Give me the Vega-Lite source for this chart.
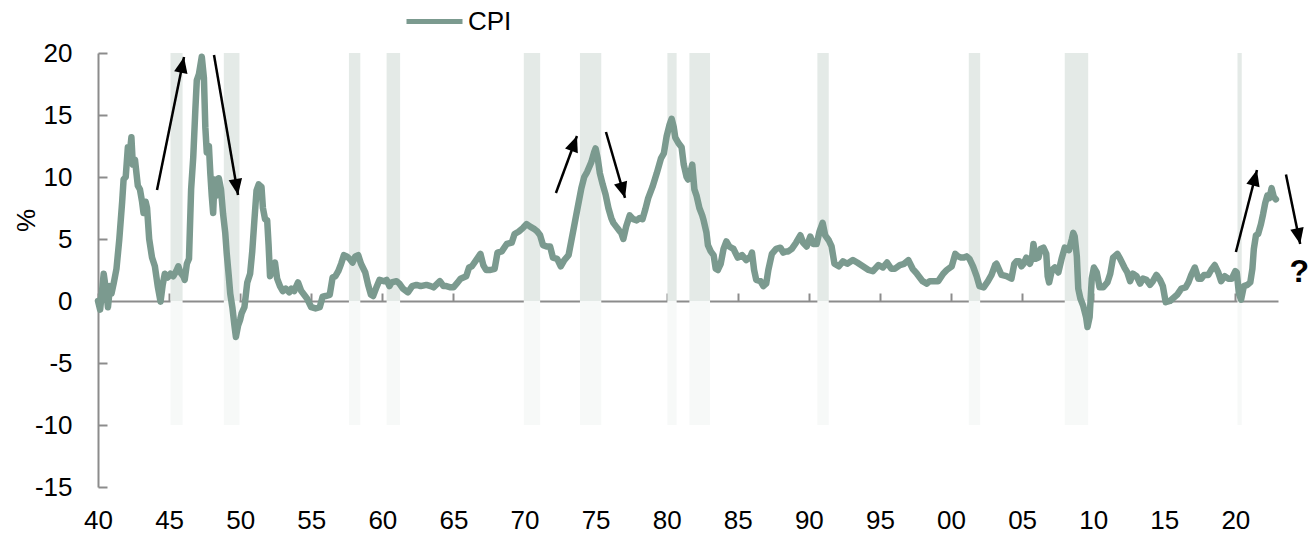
{
  "$schema": "https://vega.github.io/schema/vega-lite/v6.json",
  "width": 1180,
  "height": 434,
  "autosize": "none",
  "padding": {"left": 98, "top": 53, "right": 31, "bottom": 48},
  "background": "white",
  "config": {
    "view": {"stroke": null},
    "font": "Liberation Sans",
    "axis": {"grid": false, "labelColor": "black", "labelFont": "Liberation Sans", "titleFont": "Liberation Sans"}
  },
  "datasets": {
    "cpi": [
      {"t":1940.0,"v":0.0},{"t":1940.15,"v":-0.7},{"t":1940.3,"v":1.0},{"t":1940.4,"v":2.2},{"t":1940.55,"v":1.0},{"t":1940.7,"v":-0.5},{"t":1940.85,"v":1.2},{"t":1940.95,"v":0.6},
      {"t":1941.1,"v":1.4},{"t":1941.3,"v":2.6},{"t":1941.5,"v":5.0},{"t":1941.7,"v":8.0},{"t":1941.8,"v":9.8},{"t":1941.95,"v":10.0},
      {"t":1942.1,"v":12.4},{"t":1942.2,"v":11.5},{"t":1942.35,"v":13.2},{"t":1942.45,"v":11.0},{"t":1942.6,"v":11.4},{"t":1942.8,"v":9.3},{"t":1942.95,"v":9.0},
      {"t":1943.1,"v":8.0},{"t":1943.2,"v":7.1},{"t":1943.35,"v":8.0},{"t":1943.45,"v":7.5},{"t":1943.6,"v":5.0},{"t":1943.8,"v":3.5},
      {"t":1944.0,"v":2.8},{"t":1944.2,"v":1.2},{"t":1944.4,"v":-0.05},{"t":1944.55,"v":1.3},{"t":1944.7,"v":2.2},{"t":1944.9,"v":1.9},
      {"t":1945.1,"v":2.2},{"t":1945.3,"v":2.0},{"t":1945.5,"v":2.4},{"t":1945.65,"v":2.8},{"t":1945.8,"v":2.3},
      {"t":1946.0,"v":2.0},{"t":1946.1,"v":1.7},{"t":1946.25,"v":3.0},{"t":1946.4,"v":3.4},{"t":1946.55,"v":9.0},{"t":1946.7,"v":11.6},{"t":1946.85,"v":15.5},{"t":1946.95,"v":17.8},
      {"t":1947.1,"v":18.3},{"t":1947.3,"v":19.7},{"t":1947.45,"v":18.0},{"t":1947.55,"v":14.0},{"t":1947.65,"v":12.0},{"t":1947.8,"v":12.5},{"t":1947.9,"v":10.3},
      {"t":1948.0,"v":8.5},{"t":1948.1,"v":7.1},{"t":1948.2,"v":9.8},{"t":1948.35,"v":8.5},{"t":1948.5,"v":9.9},{"t":1948.65,"v":9.0},{"t":1948.8,"v":7.0},{"t":1948.95,"v":5.5},
      {"t":1949.05,"v":3.9},{"t":1949.2,"v":2.0},{"t":1949.3,"v":0.6},{"t":1949.45,"v":-0.5},{"t":1949.6,"v":-2.0},{"t":1949.7,"v":-2.9},{"t":1949.85,"v":-2.0},
      {"t":1950.0,"v":-1.5},{"t":1950.1,"v":-1.0},{"t":1950.3,"v":-0.5},{"t":1950.5,"v":1.5},{"t":1950.7,"v":2.2},{"t":1950.85,"v":4.0},
      {"t":1951.0,"v":6.5},{"t":1951.15,"v":8.9},{"t":1951.3,"v":9.4},{"t":1951.5,"v":9.2},{"t":1951.6,"v":7.5},{"t":1951.75,"v":6.6},{"t":1951.9,"v":6.5},
      {"t":1952.0,"v":4.5},{"t":1952.1,"v":2.0},{"t":1952.25,"v":2.5},{"t":1952.45,"v":3.1},{"t":1952.6,"v":1.8},{"t":1952.8,"v":1.2},
      {"t":1953.0,"v":0.8},{"t":1953.2,"v":1.0},{"t":1953.45,"v":0.7},{"t":1953.6,"v":1.0},{"t":1953.8,"v":0.8},
      {"t":1954.07,"v":1.5},{"t":1954.3,"v":0.8},{"t":1954.5,"v":0.5},{"t":1954.7,"v":0.2},
      {"t":1955.0,"v":-0.5},{"t":1955.3,"v":-0.6},{"t":1955.6,"v":-0.5},{"t":1955.8,"v":0.35},
      {"t":1956.0,"v":0.4},{"t":1956.3,"v":0.5},{"t":1956.5,"v":1.9},{"t":1956.7,"v":2.0},{"t":1956.9,"v":2.4},
      {"t":1957.1,"v":3.0},{"t":1957.3,"v":3.7},{"t":1957.5,"v":3.6},{"t":1957.7,"v":3.4},{"t":1957.9,"v":3.1},
      {"t":1958.1,"v":3.6},{"t":1958.3,"v":3.7},{"t":1958.5,"v":3.0},{"t":1958.8,"v":2.3},
      {"t":1959.0,"v":1.3},{"t":1959.2,"v":0.5},{"t":1959.35,"v":0.4},{"t":1959.55,"v":1.0},{"t":1959.8,"v":1.7},
      {"t":1960.1,"v":1.6},{"t":1960.3,"v":1.7},{"t":1960.5,"v":1.2},{"t":1960.65,"v":1.5},
      {"t":1961.0,"v":1.6},{"t":1961.2,"v":1.4},{"t":1961.45,"v":1.0},{"t":1961.8,"v":0.7},
      {"t":1962.1,"v":1.2},{"t":1962.4,"v":1.3},{"t":1962.7,"v":1.2},
      {"t":1963.1,"v":1.3},{"t":1963.4,"v":1.2},{"t":1963.6,"v":1.1},
      {"t":1964.05,"v":1.6},{"t":1964.3,"v":1.2},{"t":1964.5,"v":1.2},{"t":1964.8,"v":1.1},
      {"t":1965.0,"v":1.1},{"t":1965.3,"v":1.5},{"t":1965.5,"v":1.8},{"t":1965.9,"v":2.0},
      {"t":1966.1,"v":2.7},{"t":1966.3,"v":2.8},{"t":1966.6,"v":3.3},{"t":1966.9,"v":3.8},
      {"t":1967.1,"v":2.9},{"t":1967.3,"v":2.5},{"t":1967.6,"v":2.5},{"t":1967.9,"v":2.6},
      {"t":1968.1,"v":3.9},{"t":1968.4,"v":4.0},{"t":1968.75,"v":4.6},
      {"t":1969.1,"v":4.7},{"t":1969.3,"v":5.4},{"t":1969.6,"v":5.6},{"t":1969.9,"v":5.9},
      {"t":1970.15,"v":6.2},{"t":1970.4,"v":6.0},{"t":1970.7,"v":5.8},{"t":1970.9,"v":5.6},
      {"t":1971.1,"v":5.3},{"t":1971.3,"v":4.5},{"t":1971.55,"v":4.4},{"t":1971.8,"v":4.4},
      {"t":1972.0,"v":3.5},{"t":1972.3,"v":3.4},{"t":1972.55,"v":2.8},{"t":1972.8,"v":3.3},
      {"t":1973.1,"v":3.7},{"t":1973.4,"v":5.5},{"t":1973.7,"v":7.3},
      {"t":1974.0,"v":9.1},{"t":1974.2,"v":10.0},{"t":1974.4,"v":10.4},{"t":1974.7,"v":11.2},{"t":1974.9,"v":12.0},
      {"t":1975.0,"v":12.3},{"t":1975.15,"v":11.5},{"t":1975.3,"v":10.3},{"t":1975.5,"v":9.4},{"t":1975.7,"v":8.6},{"t":1975.9,"v":7.5},
      {"t":1976.1,"v":6.7},{"t":1976.25,"v":6.3},{"t":1976.45,"v":6.0},{"t":1976.65,"v":5.7},{"t":1976.8,"v":5.5},{"t":1976.95,"v":5.0},
      {"t":1977.15,"v":6.0},{"t":1977.4,"v":6.9},{"t":1977.65,"v":6.6},{"t":1977.9,"v":6.5},
      {"t":1978.1,"v":6.7},{"t":1978.3,"v":6.6},{"t":1978.5,"v":7.4},{"t":1978.7,"v":8.3},
      {"t":1979.0,"v":9.2},{"t":1979.3,"v":10.3},{"t":1979.6,"v":11.5},{"t":1979.8,"v":11.9},
      {"t":1980.0,"v":13.3},{"t":1980.2,"v":14.2},{"t":1980.35,"v":14.7},{"t":1980.5,"v":14.0},{"t":1980.6,"v":13.2},{"t":1980.85,"v":12.7},
      {"t":1981.05,"v":12.4},{"t":1981.2,"v":11.0},{"t":1981.4,"v":10.0},{"t":1981.5,"v":9.8},{"t":1981.7,"v":10.5},{"t":1981.8,"v":11.0},{"t":1981.95,"v":9.0},
      {"t":1982.1,"v":8.5},{"t":1982.3,"v":7.5},{"t":1982.5,"v":6.9},{"t":1982.6,"v":6.5},{"t":1982.8,"v":5.5},{"t":1982.9,"v":4.5},
      {"t":1983.1,"v":4.0},{"t":1983.3,"v":3.7},{"t":1983.45,"v":2.6},{"t":1983.6,"v":2.5},{"t":1983.8,"v":3.0},
      {"t":1984.0,"v":4.2},{"t":1984.2,"v":4.8},{"t":1984.4,"v":4.4},{"t":1984.7,"v":4.2},
      {"t":1985.0,"v":3.5},{"t":1985.3,"v":3.7},{"t":1985.6,"v":3.3},{"t":1985.9,"v":3.6},
      {"t":1986.0,"v":3.9},{"t":1986.15,"v":2.5},{"t":1986.3,"v":1.7},{"t":1986.6,"v":1.6},{"t":1986.8,"v":1.2},
      {"t":1987.0,"v":1.4},{"t":1987.15,"v":2.5},{"t":1987.4,"v":3.8},{"t":1987.7,"v":4.2},
      {"t":1988.0,"v":4.3},{"t":1988.2,"v":3.9},{"t":1988.4,"v":4.0},{"t":1988.55,"v":4.0},{"t":1988.8,"v":4.2},
      {"t":1989.1,"v":4.7},{"t":1989.4,"v":5.3},{"t":1989.6,"v":4.7},{"t":1989.85,"v":4.4},
      {"t":1990.1,"v":5.2},{"t":1990.3,"v":4.6},{"t":1990.55,"v":4.6},{"t":1990.75,"v":5.6},{"t":1990.97,"v":6.3},
      {"t":1991.15,"v":5.3},{"t":1991.4,"v":4.9},{"t":1991.6,"v":4.4},{"t":1991.8,"v":3.0},
      {"t":1992.1,"v":2.8},{"t":1992.4,"v":3.2},{"t":1992.7,"v":3.0},
      {"t":1993.1,"v":3.3},{"t":1993.4,"v":3.1},{"t":1993.8,"v":2.8},
      {"t":1994.2,"v":2.5},{"t":1994.5,"v":2.4},{"t":1994.9,"v":2.9},
      {"t":1995.2,"v":2.7},{"t":1995.5,"v":3.1},{"t":1995.8,"v":2.6},
      {"t":1996.05,"v":2.6},{"t":1996.4,"v":2.9},{"t":1996.7,"v":3.0},
      {"t":1997.0,"v":3.3},{"t":1997.3,"v":2.6},{"t":1997.6,"v":2.2},
      {"t":1998.0,"v":1.6},{"t":1998.3,"v":1.4},{"t":1998.5,"v":1.6},{"t":1998.75,"v":1.6},
      {"t":1999.1,"v":1.6},{"t":1999.45,"v":2.2},{"t":1999.7,"v":2.5},
      {"t":2000.05,"v":2.8},{"t":2000.3,"v":3.8},{"t":2000.5,"v":3.6},{"t":2000.7,"v":3.5},{"t":2000.9,"v":3.5},
      {"t":2001.1,"v":3.6},{"t":2001.3,"v":3.4},{"t":2001.55,"v":2.8},{"t":2001.8,"v":2.0},
      {"t":2002.0,"v":1.2},{"t":2002.3,"v":1.1},{"t":2002.6,"v":1.6},{"t":2002.85,"v":2.1},
      {"t":2003.1,"v":2.9},{"t":2003.2,"v":3.0},{"t":2003.55,"v":2.1},{"t":2003.9,"v":2.0},
      {"t":2004.25,"v":1.8},{"t":2004.45,"v":3.0},{"t":2004.6,"v":3.2},{"t":2004.8,"v":3.2},{"t":2004.95,"v":2.8},
      {"t":2005.1,"v":3.0},{"t":2005.3,"v":3.5},{"t":2005.55,"v":3.0},{"t":2005.7,"v":3.5},{"t":2005.8,"v":4.6},{"t":2005.95,"v":3.4},
      {"t":2006.15,"v":3.5},{"t":2006.3,"v":4.2},{"t":2006.5,"v":4.3},{"t":2006.7,"v":3.8},{"t":2006.8,"v":2.0},{"t":2006.9,"v":1.5},
      {"t":2007.1,"v":2.5},{"t":2007.3,"v":2.7},{"t":2007.55,"v":2.3},{"t":2007.8,"v":3.5},
      {"t":2008.0,"v":4.3},{"t":2008.3,"v":4.1},{"t":2008.5,"v":5.0},{"t":2008.6,"v":5.5},{"t":2008.7,"v":5.2},{"t":2008.85,"v":3.6},{"t":2008.95,"v":1.0},
      {"t":2009.1,"v":0.2},{"t":2009.3,"v":-0.4},{"t":2009.5,"v":-1.3},{"t":2009.6,"v":-2.1},{"t":2009.75,"v":-1.3},{"t":2009.9,"v":1.8},
      {"t":2010.05,"v":2.7},{"t":2010.25,"v":2.3},{"t":2010.45,"v":1.1},{"t":2010.7,"v":1.1},
      {"t":2011.0,"v":1.5},{"t":2011.2,"v":2.2},{"t":2011.4,"v":3.5},{"t":2011.7,"v":3.8},{"t":2011.9,"v":3.4},
      {"t":2012.2,"v":2.7},{"t":2012.4,"v":2.3},{"t":2012.6,"v":1.6},{"t":2012.8,"v":2.2},
      {"t":2013.05,"v":2.0},{"t":2013.3,"v":1.4},{"t":2013.5,"v":1.8},{"t":2013.75,"v":1.7},
      {"t":2014.0,"v":1.3},{"t":2014.2,"v":1.6},{"t":2014.45,"v":2.1},{"t":2014.7,"v":1.7},{"t":2014.9,"v":1.2},
      {"t":2015.1,"v":-0.1},{"t":2015.4,"v":0.0},{"t":2015.6,"v":0.2},{"t":2015.9,"v":0.5},
      {"t":2016.2,"v":1.0},{"t":2016.5,"v":1.1},{"t":2016.7,"v":1.5},{"t":2016.9,"v":2.1},
      {"t":2017.15,"v":2.7},{"t":2017.4,"v":1.8},{"t":2017.6,"v":1.8},{"t":2017.8,"v":2.1},
      {"t":2018.1,"v":2.1},{"t":2018.3,"v":2.5},{"t":2018.55,"v":2.9},{"t":2018.8,"v":2.3},
      {"t":2019.0,"v":1.6},{"t":2019.25,"v":2.0},{"t":2019.5,"v":1.8},{"t":2019.75,"v":1.8},
      {"t":2020.0,"v":2.4},{"t":2020.1,"v":2.3},{"t":2020.25,"v":0.6},{"t":2020.4,"v":0.1},{"t":2020.6,"v":1.2},{"t":2020.85,"v":1.3},
      {"t":2021.05,"v":1.5},{"t":2021.2,"v":2.6},{"t":2021.3,"v":4.2},{"t":2021.45,"v":5.3},{"t":2021.6,"v":5.4},{"t":2021.8,"v":6.2},{"t":2021.95,"v":7.0},
      {"t":2022.1,"v":7.9},{"t":2022.25,"v":8.5},{"t":2022.4,"v":8.3},{"t":2022.55,"v":9.1},{"t":2022.7,"v":8.4},{"t":2022.85,"v":8.2}
    ],
    "rec": [
      {"s":1945.1,"e":1945.95},{"s":1948.85,"e":1949.95},{"s":1957.65,"e":1958.45},{"s":1960.3,"e":1961.25},
      {"s":1969.95,"e":1971.1},{"s":1973.9,"e":1975.4},{"s":1980.05,"e":1980.7},{"s":1981.6,"e":1983.05},
      {"s":1990.6,"e":1991.4},{"s":2001.25,"e":2002.05},{"s":2008.0,"e":2009.65},{"s":2020.15,"e":2020.45}
    ],
    "arrows": [
      {"x":1944.15,"y":8.95,"x2":1946.05,"y2":19.68},
      {"x":1948.16,"y":19.84,"x2":1949.85,"y2":8.55},
      {"x":1972.21,"y":8.71,"x2":1973.69,"y2":13.31},
      {"x":1975.73,"y":13.63,"x2":1977.07,"y2":8.31},
      {"x":2020.04,"y":3.95,"x2":2021.52,"y2":10.56},
      {"x":2023.56,"y":10.2,"x2":2024.56,"y2":4.6}
    ],
    "notes": [{"x":2024.5,"y":2.3,"label":"?"}]
  },
  "resolve": {"axis": {"x": "independent", "y": "independent"}},
  "layer": [
    {
      "data": {"name": "rec"},
      "mark": {"type": "rect", "color": "#f7f9f8"},
      "encoding": {
        "x": {"field": "s", "type": "quantitative", "scale": {"domain": [1940, 2023], "nice": false, "zero": false}, "axis": null},
        "x2": {"field": "e"},
        "y": {"datum": -10, "type": "quantitative", "scale": {"domain": [-15, 20], "nice": false},
          "axis": {"values": [-15,-10,-5,0,5,10,15,20], "domain": false, "ticks": false, "labelPadding": 26, "labelFontSize": 26,
            "labelExpr": "toString(datum.value)",
            "title": "%", "titleFontSize": 26, "titleFontWeight": "normal",
            "titleX": -72, "titleY": 167, "titleAngle": 270, "titleBaseline": "middle", "titleAlign": "center"}},
        "y2": {"datum": 0}
      }
    },
    {
      "data": {"name": "rec"},
      "mark": {"type": "rect", "color": "#e4eae7"},
      "encoding": {
        "x": {"field": "s", "type": "quantitative", "scale": {"domain": [1940, 2023], "nice": false, "zero": false},
          "axis": {"orient": "top", "offset": -248, "labels": false, "title": null, "values": [1940,1945,1950,1955,1960,1965,1970,1975,1980,1985,1990,1995,2000,2005,2010,2015,2020],
            "domainColor": "#8c8c8c", "domainWidth": 2, "tickColor": "#8c8c8c", "tickWidth": 2, "tickSize": 8}},
        "x2": {"field": "e"},
        "y": {"datum": 0, "type": "quantitative",
          "axis": {"orient": "right", "offset": -1180, "labels": false, "title": null, "values": [-15,-10,-5,0,5,10,15,20],
            "domainColor": "#8c8c8c", "domainWidth": 2, "tickColor": "#8c8c8c", "tickWidth": 2, "tickSize": 9}},
        "y2": {"datum": 20}
      }
    },
    {
      "data": {"name": "cpi"},
      "mark": {"type": "line", "strokeWidth": 6.5, "strokeJoin": "round", "strokeCap": "round"},
      "encoding": {
        "x": {"field": "t", "type": "quantitative",
          "axis": {"orient": "bottom", "domain": false, "ticks": false, "title": null, "labelPadding": 20, "labelFontSize": 26,
            "values": [1940,1945,1950,1955,1960,1965,1970,1975,1980,1985,1990,1995,2000,2005,2010,2015,2020],
            "labelExpr": "slice(toString(datum.value), 2)", "labelFlush": false, "labelOverlap": false}},
        "y": {"field": "v", "type": "quantitative", "axis": null},
        "color": {"datum": "CPI", "type": "nominal", "scale": {"range": ["#7b9a8f"]},
          "legend": {"orient": "none", "legendX": 306, "legendY": -62, "title": null, "symbolType": "stroke", "symbolSize": 3136,
            "symbolStrokeWidth": 5, "labelFontSize": 26, "labelOffset": 3, "padding": 0, "labelColor": "black", "labelFont": "Liberation Sans"}}
      }
    },
    {
      "data": {"name": "arrows"},
      "mark": {"type": "rule", "color": "black", "strokeWidth": 2.5},
      "encoding": {
        "x": {"field": "x", "type": "quantitative", "axis": null},
        "y": {"field": "y", "type": "quantitative", "axis": null},
        "x2": {"field": "x2"},
        "y2": {"field": "y2"}
      }
    },
    {
      "data": {"name": "arrows"},
      "transform": [{"calculate": "atan2((datum.x2 - datum.x) * 14.217, (datum.y2 - datum.y) * 12.4) * 180 / PI", "as": "ang"}],
      "mark": {"type": "point", "shape": "M0,0L0.85,2L-0.85,2Z", "filled": true, "size": 256, "color": "black", "opacity": 1},
      "encoding": {
        "x": {"field": "x2", "type": "quantitative", "axis": null},
        "y": {"field": "y2", "type": "quantitative", "axis": null},
        "angle": {"field": "ang", "type": "quantitative", "scale": null}
      }
    },
    {
      "data": {"name": "notes"},
      "mark": {"type": "text", "fontSize": 32, "fontWeight": "bold", "font": "Liberation Sans", "color": "black"},
      "encoding": {
        "x": {"field": "x", "type": "quantitative", "axis": null},
        "y": {"field": "y", "type": "quantitative", "axis": null},
        "text": {"field": "label"}
      }
    }
  ]
}
